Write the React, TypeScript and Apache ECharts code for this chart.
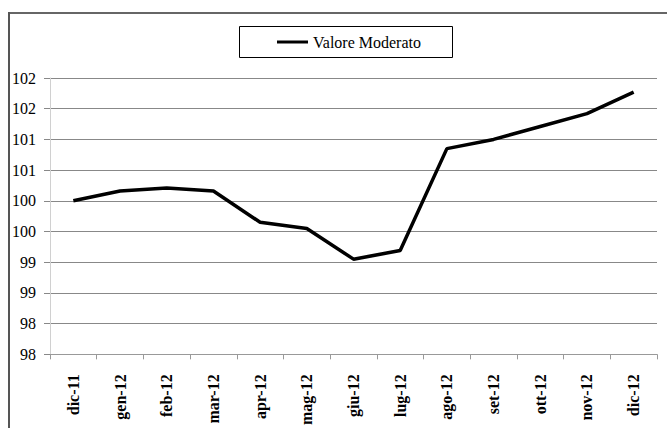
import React, { useEffect, useRef } from "react";
import * as echarts from "echarts";

const categories = ["dic-11", "gen-12", "feb-12", "mar-12", "apr-12", "mag-12", "giu-12", "lug-12", "ago-12", "set-12", "ott-12", "nov-12", "dic-12"];
const valoreModerato = [100.0, 100.16, 100.21, 100.16, 99.65, 99.55, 99.05, 99.19, 100.85, 101.0, 101.21, 101.42, 101.77];
const yMin = 97.5;
const yMax = 102;
const yStep = 0.5;
const seriesName = "Valore Moderato";

const FONT = "serif";

export default function App() {
  const ref = useRef<HTMLDivElement>(null);
  useEffect(() => {
    document.body.style.margin = "0";
    const chart = echarts.init(ref.current!, null, { renderer: "svg" });
    chart.setOption({
      animation: false,
      backgroundColor: "#ffffff",
      textStyle: { fontFamily: FONT },
      grid: { left: 50, right: 10, top: 78, bottom: 71, containLabel: false },
      legend: {
        data: [{ name: seriesName, icon: "rect" }],
        left: 277,
        top: 34,
        itemWidth: 31,
        itemHeight: 3,
        itemGap: 4,
        padding: 0,
        textStyle: { fontFamily: FONT, fontSize: 16, color: "#000" },
      },
      graphic: [
        { type: "rect", shape: { x: 239.5, y: 26.5, width: 213, height: 31 }, style: { fill: "none", stroke: "#000", lineWidth: 1 } },
        { type: "line", shape: { x1: 9, y1: 13, x2: 667, y2: 13 }, style: { stroke: "#666", lineWidth: 2 } },
        { type: "line", shape: { x1: 9, y1: 12, x2: 9, y2: 428 }, style: { stroke: "#555", lineWidth: 2 } },
      ],
      xAxis: {
        type: "category",
        data: categories,
        boundaryGap: true,
        axisLine: { lineStyle: { color: "#999", width: 1 } },
        axisTick: { show: true, length: 5, lineStyle: { color: "#999" } },
        axisLabel: {
          rotate: 90,
          margin: 20,
          fontFamily: FONT,
          fontWeight: "bold",
          fontSize: 16,
          color: "#000",
          interval: 0,
        },
      },
      yAxis: {
        type: "value",
        min: yMin,
        max: yMax,
        interval: yStep,
        axisLine: { show: true, lineStyle: { color: "#d0d0d0", width: 1 } },
        axisTick: { show: true, length: 6, lineStyle: { color: "#888" } },
        axisLabel: {
          margin: 14,
          fontFamily: FONT,
          fontSize: 16,
          color: "#000",
          formatter: (v: number) => "{a|" + String(Math.round(v)) + "}",
          rich: { a: { fontFamily: "Liberation Serif", fontSize: 16, color: "#000" } },
        },
        splitLine: { show: true, lineStyle: { color: "#888", width: 1 } },
      },
      series: [
        {
          name: seriesName,
          type: "line",
          data: valoreModerato,
          symbol: "none",
          lineStyle: { color: "#000", width: 3.5 },
          itemStyle: { color: "#000" },
        },
      ],
    });
    return () => chart.dispose();
  }, []);
  return <div ref={ref} style={{ width: 667, height: 428 }} />;
}
